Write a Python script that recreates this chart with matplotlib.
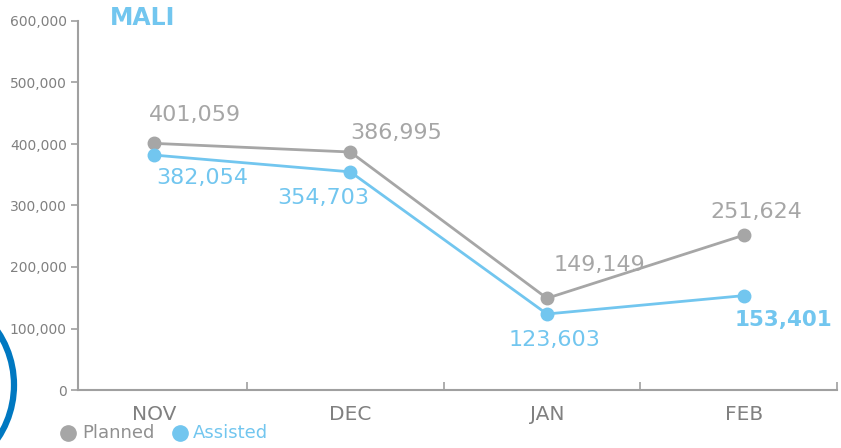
import matplotlib
matplotlib.use("Agg")
import matplotlib.pyplot as plt
from matplotlib.patches import Ellipse
from matplotlib.ticker import FuncFormatter

months = ["NOV", "DEC", "JAN", "FEB"]
planned = [401059, 386995, 149149, 251624]
assisted = [382054, 354703, 123603, 153401]
yticks = [0, 100000, 200000, 300000, 400000, 500000, 600000]

GREY = "#A6A6A6"
BLUE = "#72C6EF"
AXIS = "#A0A0A0"

# label offsets in pixels (dx, dy) relative to each point
planned_off = [(41, 28), (46, 19), (52, 33), (13, 23)]
assisted_off = [(49, -23), (-27, -26), (8, -26), (40, -24)]

W, H = 841, 448
fig = plt.figure(figsize=(W / 100, H / 100), dpi=100)
ax = fig.add_axes([78 / W, 58 / H, (837 - 78) / W, (390 - 21) / H])

x = list(range(len(months)))
ax.plot(x, planned, color=GREY, lw=2, marker="o", ms=9, zorder=3)
ax.plot(x, assisted, color=BLUE, lw=2, marker="o", ms=9, zorder=4)

for i in x:
    ax.annotate(f"{planned[i]:,}", (i, planned[i]), xytext=planned_off[i],
                textcoords="offset pixels", ha="center", va="center",
                fontsize=16, color=GREY)
    bold = i == len(months) - 1
    ax.annotate(f"{assisted[i]:,}", (i, assisted[i]), xytext=assisted_off[i],
                textcoords="offset pixels", ha="center", va="center",
                fontsize=16 if not bold else 15.5, color=BLUE,
                fontweight="bold" if bold else "normal")

ax.set_xlim(-0.385, 3.475)
ax.set_ylim(0, 600000)
ax.set_xticks(x)
ax.set_xticklabels(months)
ax.set_xticks([0.475, 1.475, 2.475, 3.475], minor=True)
ax.tick_params(axis="x", which="major", length=0, pad=11, labelsize=14.5, labelcolor="#808080")
ax.tick_params(axis="x", which="minor", direction="in", length=6, color=AXIS, width=1.2)
ax.set_yticks(yticks)
ax.yaxis.set_major_formatter(FuncFormatter(lambda v, p: f"{int(v):,}"))
ax.tick_params(axis="y", direction="out", length=5, color=AXIS, width=1.2,
               labelsize=10, labelcolor="#808080", pad=3)

for s in ["top", "right"]:
    ax.spines[s].set_visible(False)
for s in ["left", "bottom"]:
    ax.spines[s].set_color(AXIS)
    ax.spines[s].set_linewidth(1.5)

fig.text(110 / W, 1 - 18 / H, "MALI", color=BLUE, fontsize=17,
         fontweight="bold", va="center", ha="left")

# legend
ly = 1 - 433 / H
fig.add_artist(plt.Line2D([68 / W], [ly], marker="o", ms=11, color=GREY, ls=""))
fig.text(82 / W, ly, "Planned", color="#909090", fontsize=13, va="center")
fig.add_artist(plt.Line2D([180 / W], [ly], marker="o", ms=11, color=BLUE, ls=""))
fig.text(193 / W, ly, "Assisted", color=BLUE, fontsize=13, va="center")

# decorative ring at the lower left
r = 96
ring = Ellipse((-82 / W, 1 - 385 / H), 2 * r / W, 2 * r / H,
               transform=fig.transFigure, fill=False, ec="#0078C1", lw=4.5)
fig.add_artist(ring)

fig.savefig("out.png", dpi=100)
